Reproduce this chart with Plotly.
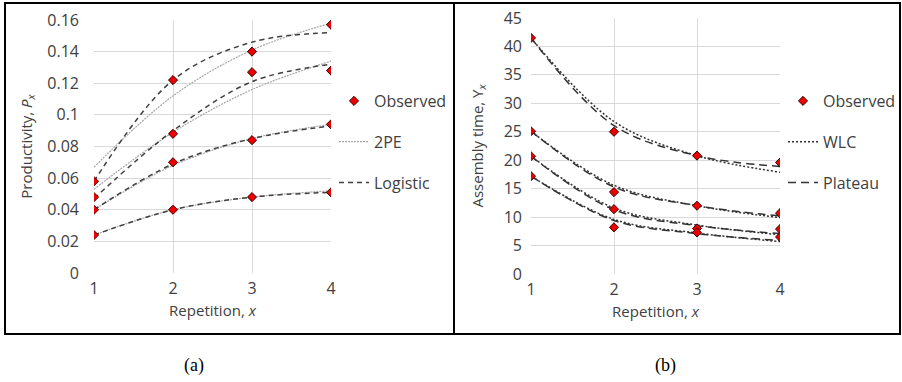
import plotly.graph_objects as go

# ---------------- data ----------------
reps = [1, 2, 3, 4]

# Panel (a): productivity
obs_a = [
    [0.058, 0.122, 0.140, 0.157],
    [0.048, 0.088, 0.127, 0.128],
    [0.040, 0.070, 0.084, 0.094],
    [0.024, 0.040, 0.048, 0.051],
]
pe2_a = [
    [0.067, 0.112, 0.141, 0.158],
    [0.053, 0.089, 0.116, 0.134],
    [0.040, 0.068, 0.085, 0.094],
    [0.024, 0.040, 0.048, 0.052],
]
logistic_a = [
    [0.058, 0.122, 0.146, 0.152],
    [0.047, 0.090, 0.121, 0.132],
    [0.040, 0.069, 0.085, 0.093],
    [0.024, 0.040, 0.048, 0.051],
]
yticks_a = [0, 0.02, 0.04, 0.06, 0.08, 0.1, 0.12, 0.14, 0.16]
yticktext_a = ["0", "0.02", "0.04", "0.06", "0.08", "0.1", "0.12", "0.14", "0.16"]

# Panel (b): assembly time
obs_b = [
    [41.5, 25.0, 20.8, 19.6],
    [25.1, 14.4, 12.0, 10.7],
    [20.7, 11.4, 8.0, 7.9],
    [17.2, 8.2, 7.3, 6.5],
]
wlc_b = [
    [41.5, 26.8, 20.8, 17.9],
    [25.1, 15.6, 12.0, 9.9],
    [20.7, 11.6, 8.6, 6.9],
    [17.2, 9.6, 7.2, 5.7],
]
plateau_b = [
    [41.5, 26.1, 20.8, 18.9],
    [25.1, 15.3, 12.0, 10.2],
    [20.7, 11.3, 8.5, 7.1],
    [17.2, 9.4, 7.1, 5.9],
]
yticks_b = [0, 5, 10, 15, 20, 25, 30, 35, 40, 45]
xticks = [1, 2, 3, 4]

# ---------------- style ----------------
FONT = "Open Sans"
TXT = "#404040"
GRID = "#d9d9d9"
W, H = 902, 382

def px_x(p):
    return p / W

def px_y(p):
    return (H - p) / H

fig = go.Figure()

def add_lines(series, name, color, dash, width, xa, ya, legend, group, rank):
    for i, s in enumerate(series):
        fig.add_trace(go.Scatter(
            x=reps, y=s, mode="lines", name=name,
            line=dict(color=color, dash=dash, width=width, shape="spline", smoothing=1.0),
            xaxis=xa, yaxis=ya, legend=legend, legendgroup=group, legendrank=rank,
            showlegend=(i == 0), hoverinfo="skip"))

def add_obs(series, xa, ya, legend, group, rank):
    for i, s in enumerate(series):
        fig.add_trace(go.Scatter(
            x=reps, y=s, mode="markers", name="Observed",
            marker=dict(symbol="diamond", size=7, color="#ee0000",
                        line=dict(color="#3a0000", width=1)),
            xaxis=xa, yaxis=ya, legend=legend, legendgroup=group, legendrank=rank,
            showlegend=(i == 0)))

# lines first, markers on top
add_lines(pe2_a, "2PE", "#a6a6a6", "2px,1px", 1.2, "x", "y", "legend", "a_2pe", 2)
add_lines(logistic_a, "Logistic", "#404040", "5px,4px", 1.5, "x", "y", "legend", "a_log", 3)
add_lines(wlc_b, "WLC", "#333333", "2px,2px", 1.5, "x2", "y2", "legend2", "b_wlc", 2)
add_lines(plateau_b, "Plateau", "#333333", "8px,5px", 1.5, "x2", "y2", "legend2", "b_pla", 3)
add_obs(obs_a, "x", "y", "legend", "a_obs", 1)
add_obs(obs_b, "x2", "y2", "legend2", "b_obs", 1)

tickfont = dict(family=FONT, size=16, color=TXT)
titlefont = dict(family=FONT, size=15, color=TXT)
axis_common = dict(showgrid=True, gridcolor=GRID, gridwidth=1, showline=False,
                   zeroline=False, ticks="", tickfont=tickfont, automargin=False)

fig.update_layout(
    template="none",
    width=W, height=H, autosize=False,
    margin=dict(l=0, r=0, t=0, b=0, pad=0, autoexpand=False),
    paper_bgcolor="white", plot_bgcolor="white",
    font=dict(family=FONT, size=15, color=TXT),
    xaxis=dict(domain=[px_x(94), px_x(331)], range=[1, 4], tickvals=xticks,
               anchor="y", ticklabelstandoff=4,
               title=dict(text="Repetition, <i>x</i>", standoff=7, font=titlefont),
               **axis_common),
    yaxis=dict(domain=[px_y(273), px_y(20)], range=[0, 0.16], tickvals=yticks_a,
               ticktext=yticktext_a, anchor="x", ticklabelstandoff=14,
               title=dict(text="Productivity, <i>P</i><sub><i>x</i></sub>", standoff=11,
                          font=titlefont),
               **axis_common),
    xaxis2=dict(domain=[px_x(531), px_x(780)], range=[1, 4], tickvals=xticks,
                anchor="y2", ticklabelstandoff=4,
                title=dict(text="Repetition, <i>x</i>", standoff=7, font=titlefont),
                **axis_common),
    yaxis2=dict(domain=[px_y(274), px_y(18)], range=[0, 45], tickvals=yticks_b,
                anchor="x2", ticklabelstandoff=8,
                title=dict(text="Assembly time, Y<sub><i>x</i></sub>", standoff=16,
                           font=titlefont),
                **axis_common),
    legend=dict(x=px_x(334), y=px_y(84), xanchor="left", yanchor="top",
                traceorder="grouped", tracegroupgap=17, bgcolor="rgba(0,0,0,0)",
                borderwidth=0, font=dict(family=FONT, size=16, color=TXT)),
    legend2=dict(x=px_x(783), y=px_y(84), xanchor="left", yanchor="top",
                 traceorder="grouped", tracegroupgap=17, bgcolor="rgba(0,0,0,0)",
                 borderwidth=0, font=dict(family=FONT, size=16, color=TXT)),
    shapes=[
        dict(type="rect", xref="paper", yref="paper",
             x0=px_x(5), x1=px_x(454), y0=px_y(334), y1=px_y(3),
             line=dict(color="black", width=2)),
        dict(type="rect", xref="paper", yref="paper",
             x0=px_x(454), x1=px_x(900), y0=px_y(334), y1=px_y(3),
             line=dict(color="black", width=2)),
    ],
    annotations=[
        dict(text="(a)", x=px_x(194), y=px_y(365), xref="paper", yref="paper",
             showarrow=False, xanchor="center", yanchor="middle",
             font=dict(family="Liberation Serif", size=18, color="black")),
        dict(text="(b)", x=px_x(665), y=px_y(365), xref="paper", yref="paper",
             showarrow=False, xanchor="center", yanchor="middle",
             font=dict(family="Liberation Serif", size=18, color="black")),
    ],
)

fig.write_html(
    "out.html",
    config={"displayModeBar": False},
    post_script=("var s=document.createElement('style');"
                 "s.textContent='html,body{margin:0;padding:0;overflow:hidden}';"
                 "document.head.appendChild(s);"),
)
